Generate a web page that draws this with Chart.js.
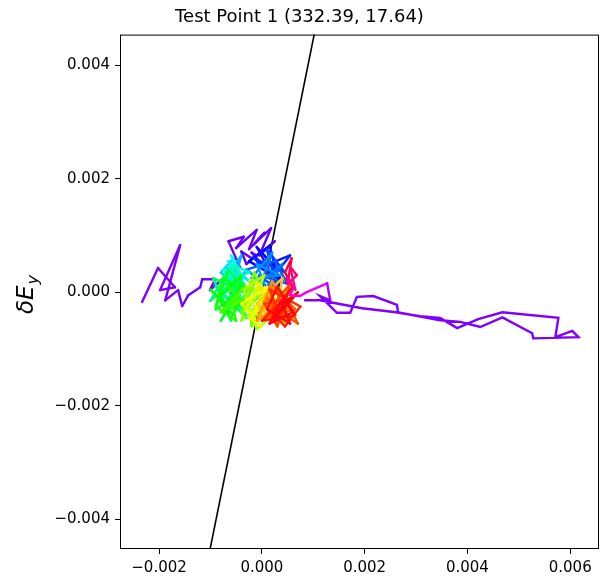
<!DOCTYPE html>
<html>
<head>
<meta charset="utf-8">
<script src="https://cdn.jsdelivr.net/npm/chart.js"></script>
<style>
  html, body { margin: 0; padding: 0; background: #fff; }
</style>
</head>
<body>
<canvas id="c" width="601" height="581"></canvas>
<script>
// trajectory, in units of 1e-4
const SCALE = 1e-4;
const walkX = [
  // left excursion
  -23.3, -20.2, -16.9, -19.8, -15.9, -18.8, -16.3, -15.5, -14.3, -12.0, -11.6, -9.1, -10.1, -6.2, -4.2,
  // upper part
  -6.5, -3.5, -5, -1, -2.5, 0.5, -1.5, 1.8, -0.5, 2.5, 0, 1.5, -2, -4, -3, -1,
  // blue
  -2, 2, -1, 3, 0.5, 4, -2.5, 1.5, 3.5, 0, 5.5, 2, -1.5, 4.5, 1, 3, -0.5, 5, 2.5, -3, 1, 4, 0, 2, -2, 3.5, -1, 0.5,
  // cyan
  -3, -6, -4, -7.5, -5, -3.5, -8, -5.5, -4.5, -7, -2.5, -6.5, -5, -8, -4, -6, -3, -7.5, -5.5, -4, -7, -2.5, -6, -4.5, -8, -5, -3.5, -6.5,
  // green
  -9, -4, -7, -10, -5.5, -3, -8, -6, -9.5, -4.5, -7.5, -2.5, -6.5, -9, -5, -8, -3.5, -7, -10, -5.5, -4, -8.5, -6, -3, -7.5, -9, -5, -6.5, -4, -8, -3.5, -6,
  // yellow
  -3.5, -1, -4, 0.5, -2, -3, 1.5, -1.5, -4, 0, -2.5, 2, -1, -3.5, 0.5, -2, 1.5, -3, -0.5, 2.5, -2.5, 0, -4, 1, -1.5, 0,
  // orange
  2, -1, 3.5, 0.5, 5, 1.5, -1, 4, 2.5, 0, 5.5, 3, -0.5, 4.5, 1, 3.5, -1, 2, 5, 0.5, 3, 4.5, 1.5, 2.5,
  // red
  1, 5, 2.5, 6.5, 0.5, 4, 7, 2, 5.5, 3, 0.5, 6, 3.5, 1.5, 7.5, 4.5, 2, 5, 0, 6.5, 3, 1, 5.5, 4, 7, 2.5, 4.5, 6, 1.5, 3.5,
  // magenta
  6, 4.5, 5.8, 5, 6.8, 5.5, 6.5, 4.8, 6.2, 5.5,
  // right excursion
  7.45, 8.4, 12.7, 13.3, 11.3, 14.6, 17.2, 18.5, 21.7, 26.3, 26.5, 30.8, 34.7, 38.0, 42.1,
  46.8, 57.7, 57.1, 60.4, 61.6, 52.8, 52.6, 46.8, 42.5, 38.6, 34.7, 26.9, 19.5, 11.3, 8.4
];
const walkY = [
  -1.7, 4.3, 0.9, 0.4, 8.3, -1.4, 0.4, -2.4, -0.5, 0.9, 2.3, 2.3, 0.4, 3.6, 4.3,
  9.0, 9.8, 7.8, 11.0, 7.6, 10.5, 8.5, 11.3, 6.5, 9, 7, 8, 6, 7.2, 5, 6.5,
  7, 3, 8, 4, 6.5, 2, 5.5, 8.2, 1, 4.5, 6.5, 2.5, 6, 3.5, 7.5, 0.5, 3, 1.5, 5.5, 4, 1, 5, 2, 7, 2.5, 3, 5, 1.5,
  4, -0.5, 6.5, 2, 5, 0, 3.5, 6, -1, 4.5, 2, 5.5, 1, -0.5, 3, 6.5, 0.5, 4, 2.5, -1, 1.5, 3.5, 5, 0, 2, 4.5, 1, -1,
  1, -3, 3.5, -1.5, 2, -4.5, 0, -5, 2.5, 0.5, -3.5, -1, 4, -3, -0.5, -5, 1.5, -2, 0.5, -4, 3, -1, -4.5, 0, 2.5, -2.5, -5, 1, -1.5, -3.5, 1, -2.5,
  -1, 2.5, -3.5, 0, -6, 1, -2.5, 3.5, -5, -1.5, 2, -4, -6.5, 0.5, 3, -2, -5, -3, 1.5, -1, -4.5, -6, -2, 1, -3.5, -1,
  -3, 1.5, -5.5, -1, 0.5, -4.5, -2, 2.5, -5, -3, -1.5, 1, -4, -5.5, -0.5, -2.5, -5, 2, -3, -1.5, -5.5, -1, 1, -3.5,
  -1, -5, 1, -3, -4.5, 0, -5.5, -2.5, 1.5, -6, -2, -1, -4, 0.5, -2.5, -6, -3.5, -0.5, -5, -4, 1, -3, -5.5, -2, 0, -4.5, -1.5, -3.5, -5.5, -2,
  1, 3.5, 6, 1.5, 3, 4.5, 0.5, 2.5, 1, -0.5,
  -0.65, -0.1, 1.6, -1.4, -0.65, -3.6, -3.6, -0.8, -0.65, -2.2, -3.6, -4.2, -4.5, -6.3, -4.7,
  -3.5, -4.5, -7.9, -6.8, -7.9, -8.1, -7.2, -4.4, -6.1, -5.2, -4.9, -3.6, -2.8, -1.4, -1.4
];

// black reference line
const lineX = [-0.00115, 0.00115];
const lineY = [-0.00516, 0.00513];

const xTicks = [-0.002, 0, 0.002, 0.004, 0.006];
const yTicks = [-0.004, -0.002, 0, 0.002, 0.004];
const titleText = 'Test Point 1 (332.39, 17.64)';

const walkPts = walkX.map((x, i) => ({ x: x * SCALE, y: walkY[i] * SCALE }));
const linePts = lineX.map((x, i) => ({ x: x, y: lineY[i] }));

// hue stops along the point index (hsv-like colour sweep)
const hueStops = [[0, 270], [31, 262], [33, 245], [59, 200], [87, 155], [119, 100], [145, 55], [169, 25], [199, -8], [209, -50], [212, -90]];
function hueAt(i) {
  if (i <= hueStops[0][0]) return hueStops[0][1];
  for (let k = 1; k < hueStops.length; k++) {
    const [i1, h1] = hueStops[k];
    const [i0, h0] = hueStops[k - 1];
    if (i <= i1) return h0 + (h1 - h0) * (i - i0) / (i1 - i0);
  }
  return 270;
}
function segColor(ctx) {
  const h = (hueAt(ctx.p0DataIndex) + 360) % 360;
  return 'hsl(' + h.toFixed(1) + ',100%,50%)';
}

function fmt(v) {
  if (Math.abs(v) < 1e-9) v = 0;
  return v.toFixed(3).replace('-', '\u2212');
}

const tickFont = { size: 15, family: 'DejaVu Sans' };

const frame = {
  id: 'frame',
  afterDraw(chart) {
    const { ctx, chartArea: c } = chart;
    ctx.save();
    ctx.strokeStyle = '#000';
    ctx.lineWidth = 1;
    ctx.strokeRect(c.left + 0.5, c.top + 0.5, c.right - c.left - 1, c.bottom - c.top - 1);
    // y axis label  δE_y
    ctx.translate(33, 295);
    ctx.rotate(-Math.PI / 2);
    ctx.fillStyle = '#000';
    ctx.textBaseline = 'alphabetic';
    ctx.font = 'italic 23px "DejaVu Sans"';
    const w1 = ctx.measureText('δE').width;
    ctx.font = 'italic 16px "DejaVu Sans"';
    const w2 = ctx.measureText('y').width;
    const x0 = -(w1 + w2) / 2;
    ctx.font = 'italic 23px "DejaVu Sans"';
    ctx.fillText('δE', x0, 0);
    ctx.font = 'italic 16px "DejaVu Sans"';
    ctx.fillText('y', x0 + w1 + 1, 5);
    ctx.restore();
  }
};

new Chart(document.getElementById('c'), {
  type: 'line',
  data: {
    datasets: [{
      data: walkPts,
      borderColor: '#8000ff',
      segment: { borderColor: segColor },
      borderWidth: 2.4,
      borderCapStyle: 'round',
      pointRadius: 0,
      tension: 0,
      fill: false
    }, {
      data: linePts,
      borderColor: '#000',
      borderWidth: 1.6,
      pointRadius: 0,
      fill: false,
      clip: 0
    }]
  },
  options: {
    responsive: false,
    animation: false,
    events: [],
    layout: { padding: { left: 0, right: 2, top: 0, bottom: 0 } },
    plugins: {
      legend: { display: false },
      tooltip: { enabled: false },
      title: {
        display: true,
        text: titleText,
        color: '#000',
        font: { size: 18, family: 'DejaVu Sans', weight: 'normal' },
        padding: { top: 7, bottom: 6 }
      }
    },
    scales: {
      x: {
        type: 'linear',
        min: -0.00276,
        max: 0.00656,
        border: { display: false },
        grid: { drawOnChartArea: false, drawTicks: true, tickLength: 5, color: '#000' },
        ticks: { font: tickFont, color: '#000', padding: 5, maxRotation: 0, autoSkip: false, callback: v => fmt(v) },
        afterBuildTicks: s => { s.ticks = xTicks.map(v => ({ value: v })); },
        afterFit: s => { s.height = 32; }
      },
      y: {
        type: 'linear',
        min: -0.00452,
        max: 0.00454,
        border: { display: false },
        grid: { drawOnChartArea: false, drawTicks: true, tickLength: 5, color: '#000' },
        ticks: { font: tickFont, color: '#000', padding: 5, autoSkip: false, callback: v => fmt(v) },
        afterBuildTicks: s => { s.ticks = yTicks.map(v => ({ value: v })); },
        afterFit: s => { s.width = 120; }
      }
    }
  },
  plugins: [frame]
});
</script>
</body>
</html>
